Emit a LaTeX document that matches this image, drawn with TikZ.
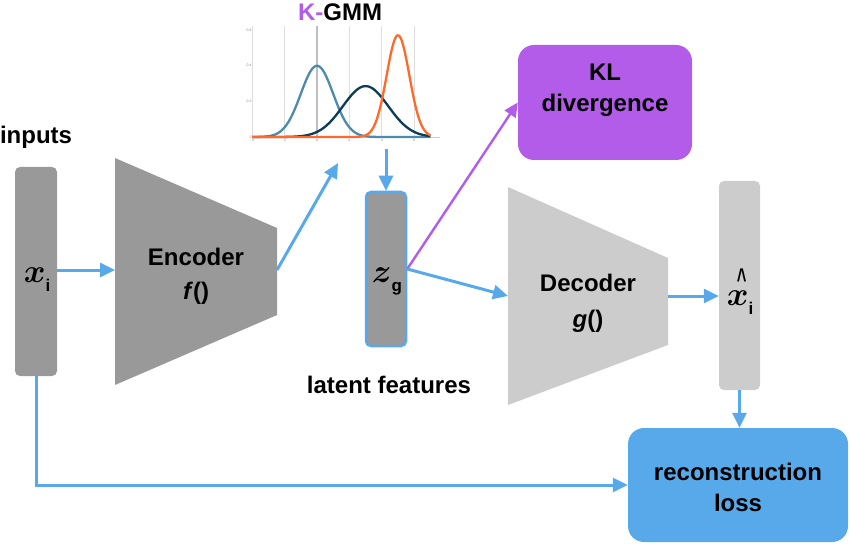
\documentclass[tikz,border=0pt]{standalone}
\usepackage{fontspec}
\usepackage{bm}
\usepackage{graphicx}
\setmainfont{Liberation Sans}
\usetikzlibrary{arrows.meta}
\definecolor{arrblue}{HTML}{58A9EA}
\definecolor{boxblue}{HTML}{58A9EA}
\definecolor{kpurple}{HTML}{B35CE9}
\definecolor{darkbox}{HTML}{999999}
\definecolor{lightbox}{HTML}{CCCCCC}
\definecolor{steel}{HTML}{4E8BAA}
\definecolor{navy}{HTML}{0D3C58}
\definecolor{orng}{HTML}{FF6A2A}
\tikzset{
  bar/.style={rectangle, rounded corners=5pt, inner sep=0pt},
  lossbox/.style={rectangle, rounded corners=16pt, inner sep=0pt},
  conn/.style={draw=arrblue, line width=3pt, -{Triangle[length=15pt,width=14pt]}},
  pconn/.style={draw=kpurple, line width=2.4pt, -{Triangle[length=14pt,width=13pt]}},
  lbl/.style={font=\bfseries\fontsize{24}{34}\selectfont, align=center, inner sep=0pt},
  boxlbl/.style={font=\bfseries\fontsize{24}{31}\selectfont, align=center, inner sep=0pt},
  varlbl/.style={anchor=base, inner sep=0pt},
  tick/.style={font=\fontsize{3.5}{4}\selectfont, text=gray, inner sep=0.5pt},
  curve/.style={line width=2.3pt, smooth, samples=120}
}
\newcommand{\vsub}[1]{\raisebox{-9pt}{\bfseries\fontsize{17}{17}\selectfont #1}}
\newcommand{\bigmv}[1]{\scalebox{3.3}{$\bm{#1}$}}
\newcommand{\hatmark}{\llap{\raisebox{16pt}{\scalebox{0.55}[1.0]{\bfseries\fontsize{30}{30}\selectfont\textasciicircum}}\hspace{2pt}}}
\begin{document}
\begin{tikzpicture}[x=1pt,y=-1pt]
\useasboundingbox (0,0) rectangle (850,545);

% labels
\node[lbl] (inputs) at (36,137) {inputs};
\node[lbl] (latent) at (389,385) {latent features};
\node[lbl] (title) at (340,12) {\textcolor{kpurple}{K-}GMM};

% input bar
\node[bar, fill=darkbox, minimum width=42pt, minimum height=209pt] (xi) at (36,271.5) {};
\node[varlbl] (xitext) at (37,282) {\bigmv{x}\vsub{i}};

% encoder
\fill[darkbox] (115,158) -- (277,228) -- (277,315) -- (115,385) -- cycle;
\coordinate (encL) at (115,270);
\coordinate (encR) at (277,270);
\node[lbl] (enc) at (196,276) {Encoder\\\textit{f}()};

% GMM chart
\begin{scope}[xshift=317pt, yshift=-137pt, x=16.2pt, y=178.5pt]
  \foreach \t in {-2,2,4,6} \draw[black!13, line width=0.8pt] (\t,0) -- (\t,0.62);
  \draw[black!25, line width=1.6pt] (0,0) -- (0,0.62);
  \draw[black!13, line width=0.6pt] (-4,0) -- (-4,0.62);
  \draw[black!20, line width=0.6pt] (-4,0) -- (7.6,0);
  \foreach \t in {-4,-2,0,2,4,6} \node[tick, anchor=north] (xt\t) at (\t,-0.01) {\t};
  \foreach \v/\s in {0/0,0.2/0.2,0.4/0.4,0.6/0.6} \node[tick, anchor=east] at (-4,\v) {\s};
  \draw[curve, steel] plot[domain=-4:7] (\x, {exp(-(\x)^2/2)/sqrt(2*pi)});
  \draw[curve, navy] plot[domain=-4:7] (\x, {exp(-(\x-3)^2/(2*1.96))/(1.4*sqrt(2*pi))});
  \draw[curve, orng] plot[domain=-4:7] (\x, {exp(-(\x-5)^2/(2*0.49))/(0.7*sqrt(2*pi))});
\end{scope}
\coordinate (gmmB) at (338,163);
\coordinate (gmmZ) at (386,149);

% latent bar
\node[bar, fill=darkbox, draw=arrblue, line width=2.5pt, minimum width=40pt, minimum height=154pt] (zg) at (386,269) {};
\node[varlbl] (zgtext) at (387,282) {\bigmv{z}\vsub{g}};

% KL box
\node[lossbox, fill=kpurple, minimum width=174pt, minimum height=115pt] (kl) at (605,102.5) {};
\node[boxlbl] (kltext) at (605,90) {KL\\divergence};

% decoder
\fill[lightbox] (508,187) -- (668,258) -- (668,345) -- (508,405) -- cycle;
\coordinate (decL) at (508,296);
\coordinate (decR) at (668,296);
\node[lbl, font=\bfseries\fontsize{24}{36}\selectfont] (dec) at (588,303) {Decoder\\\textit{g}()};

% output bar
\node[bar, fill=lightbox, minimum width=41pt, minimum height=209pt] (xhat) at (739.5,285.5) {};
\node[varlbl] (xhattext) at (740,305) {\bigmv{x}\hatmark\vsub{i}};

% reconstruction loss
\node[lossbox, fill=boxblue, minimum width=220pt, minimum height=114pt] (rec) at (738,485) {};
\node[boxlbl] (rectext) at (738,487.5) {reconstruction\\loss};

% connectors
\draw[conn] (xi.east |- encL) -- (encL);
\draw[conn] (encR) -- (gmmB);
\draw[conn] (gmmZ) -- (zg.north);
\draw[pconn] (zg.east) -- (kl.west);
\draw[conn] (zg.east) -- (decL);
\draw[conn] (decR) -- (xhat.west |- decR);
\draw[conn] (xhat.south) -- (xhat.south |- rec.north);
\draw[conn] (xi.south) |- (rec.west);
\end{tikzpicture}
\end{document}
